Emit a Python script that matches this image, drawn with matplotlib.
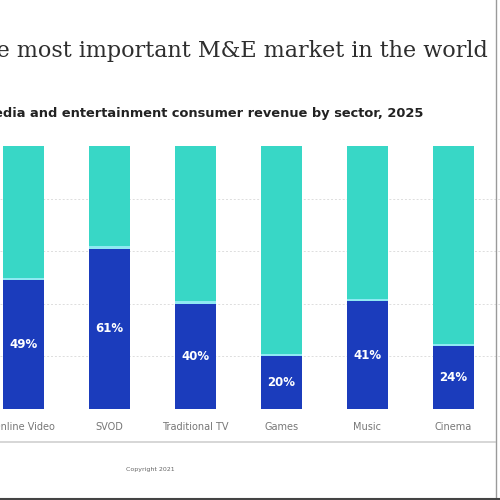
import matplotlib
matplotlib.use("Agg")
import matplotlib.pyplot as plt
from matplotlib.lines import Line2D

categories = ["Online Video", "SVOD", "Traditional TV", "Games", "Music", "Cinema"]
share = [49, 61, 40, 20, 41, 24]
title = "China is the most important M&E market in the world"
subtitle = "Media and entertainment consumer revenue by sector, 2025"
footer = "Copyright 2021"

DARK = "#1b3cbc"
TEAL = "#38d7c6"
SEP = "#8fe9f2"

fig = plt.figure(figsize=(5, 5), dpi=100)
fig.patch.set_facecolor("white")

ax = fig.add_axes([0, 0.182, 1, 0.526])
x = list(range(len(categories)))
w = 0.488
rest = [100 - v for v in share]
ax.bar(x, share, width=w, color=DARK, zorder=3)
ax.bar(x, rest, bottom=share, width=w, color=TEAL, zorder=3)
ax.bar(x, [0.9] * len(x), bottom=share, width=w, color=SEP, zorder=4)
for xi, v in zip(x, share):
    ax.text(xi, v / 2, f"{v}%", ha="center", va="center", color="white",
            fontsize=8.5, fontweight="bold", zorder=5)

ax.set_xlim(-23.5 / 86, -23.5 / 86 + 500 / 86)
ax.set_ylim(0, 100)
ax.set_yticks([20, 40, 60, 80])
ax.yaxis.grid(True, color="#dddddd", linestyle=(0, (2, 2)), linewidth=0.7, zorder=0)
ax.set_yticklabels([])
ax.tick_params(axis="y", length=0)
ax.set_xticks(x)
ax.set_xticklabels(categories, fontsize=7, color="#777777")
ax.tick_params(axis="x", length=0, pad=9.5)
for s in ax.spines.values():
    s.set_visible(False)

fig.text(0.976, 0.898, title, ha="right", va="center", fontsize=16,
         family="DejaVu Serif", color="#2e2e2e")
fig.text(0.846, 0.773, subtitle, ha="right", va="center", fontsize=9.4,
         fontweight="bold", color="#222222")
fig.text(0.30, 0.062, footer, ha="center", va="center", fontsize=4.5, color="#666666")

fig.add_artist(Line2D([0, 0.99], [0.116, 0.116], transform=fig.transFigure,
                      color="#cfcfcf", linewidth=1.2))
fig.add_artist(Line2D([0.992, 0.992], [0, 1], transform=fig.transFigure,
                      color="#9a9a9a", linewidth=1.0))
fig.add_artist(Line2D([0, 1], [0.003, 0.003], transform=fig.transFigure,
                      color="#444444", linewidth=1.5))

fig.savefig("out.png", dpi=100, facecolor="white")
